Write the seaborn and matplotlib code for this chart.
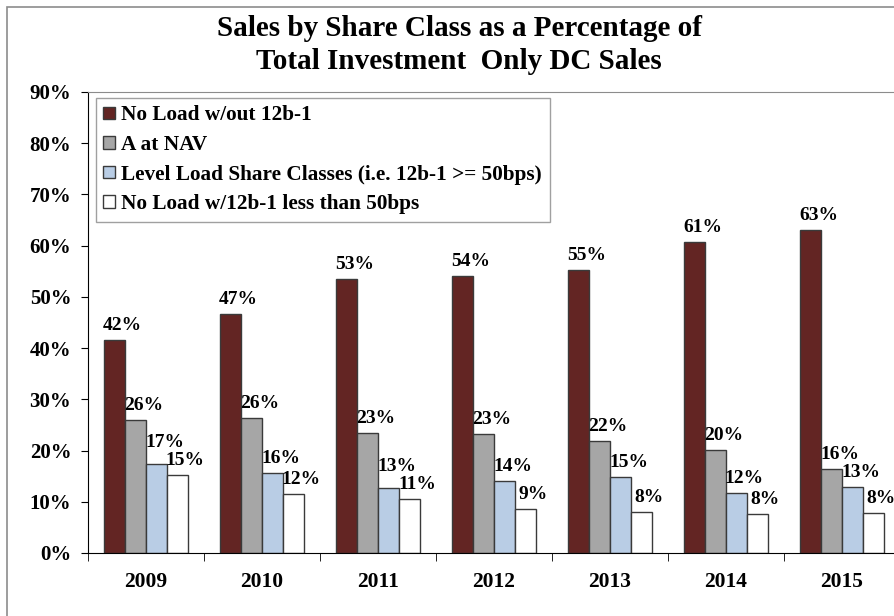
import pandas as pd
import matplotlib.pyplot as plt
import seaborn as sns
from matplotlib.patches import Rectangle
from matplotlib.ticker import PercentFormatter

# Values (share of total investment only DC sales, %)
years = ['2009', '2010', '2011', '2012', '2013', '2014', '2015']
classes = ['No Load w/out 12b-1', 'A at NAV',
           'Level Load Share Classes (i.e. 12b-1 >= 50bps)',
           'No Load w/12b-1 less than 50bps']
no_load = [41.6, 46.7, 53.4, 54.1, 55.3, 60.7, 63.1]
a_at_nav = [25.9, 26.3, 23.4, 23.2, 21.9, 20.1, 16.4]
level_load = [17.3, 15.6, 12.6, 14.1, 14.8, 11.7, 12.9]
no_load_small = [15.3, 11.6, 10.6, 8.6, 8.0, 7.6, 7.8]
colors = ['#632523', '#A6A6A6', '#B9CDE5', '#FFFFFF']

data = pd.DataFrame({
    'year': years * 4,
    'cls': [c for c in classes for _ in years],
    'pct': no_load + a_at_nav + level_load + no_load_small,
})

plt.rcParams['font.family'] = 'Liberation Serif'
plt.rcParams['font.weight'] = 'bold'

fig = plt.figure(figsize=(8.95, 6.16), dpi=100)
# light gray chart border (cropped at right and bottom in the original)
fig.patches.append(Rectangle((7 / 895, -0.1), 1.2, 1 - 7 / 616 + 0.1,
                             transform=fig.transFigure, fill=False,
                             edgecolor='#8c8c8c', linewidth=1.2))

ax = fig.add_axes([88 / 895, 63 / 616, 812 / 895, 461 / 616])
sns.barplot(data=data, x='year', y='pct', hue='cls', hue_order=classes,
            palette=colors, width=0.72, edgecolor='#3a3a3a', linewidth=1,
            saturation=1, ax=ax, legend=True)

ax.set_ylim(0, 90)
ax.set_xlim(-0.5, 6.5)
ax.set_yticks(range(0, 91, 10))
ax.yaxis.set_major_formatter(PercentFormatter(decimals=0))
ax.set_xticks(range(len(years)))
ax.set_xticks([i - 0.5 for i in range(len(years) + 1)], minor=True)
ax.tick_params(axis='x', which='major', length=0, pad=14, labelsize=15.5)
ax.tick_params(axis='x', which='minor', length=6, direction='out', color='black')
ax.tick_params(axis='y', length=5, direction='out', labelsize=15, pad=7)
for lab in ax.get_xticklabels() + ax.get_yticklabels():
    lab.set_fontweight('bold')
ax.set_xlabel('')
ax.set_ylabel('')

ax.spines['top'].set_color('#8c8c8c')
ax.spines['right'].set_color('#8c8c8c')
ax.spines['left'].set_color('black')
ax.spines['bottom'].set_color('black')

leg = ax.legend(loc='upper left', bbox_to_anchor=(8 / 812, 1 - 6 / 461),
                frameon=True, fancybox=False, framealpha=1,
                edgecolor='#a0a0a0', fontsize=15.3, handlelength=0.55,
                handleheight=0.55, handletextpad=0.3, labelspacing=0.45,
                borderpad=0.35, borderaxespad=0)
for t in leg.get_texts():
    t.set_fontweight('bold')

# data labels, shifted right; inside each year, a label is lifted above
# its right-hand neighbour when they would collide (as Excel does)
fig.canvas.draw()
renderer = fig.canvas.get_renderer()
to_data = ax.transData.inverted()
n_years = len(years)
groups = [[cont[i] for cont in ax.containers] for i in range(n_years)]
for bars in groups:
    prev_top = None
    for bar in reversed(bars):
        h = bar.get_height()
        cx = bar.get_x() + bar.get_width() / 2
        px, py = ax.transData.transform((cx, h))
        py += 6
        if prev_top is not None and py < prev_top + 1:
            py = prev_top + 1
        x_d, y_d = to_data.transform((px + 8, py))
        t = ax.text(x_d, y_d, f'{h:.0f}%', ha='center', va='bottom',
                    fontsize=14, fontweight='bold')
        bb = t.get_window_extent(renderer)
        prev_top = py + bb.height

fig.text(0.513, 0.975, 'Sales by Share Class as a Percentage of\nTotal Investment  Only DC Sales',
         ha='center', va='top', fontsize=21, fontweight='bold',
         linespacing=1.28)

plt.savefig('out.png', dpi=100)
